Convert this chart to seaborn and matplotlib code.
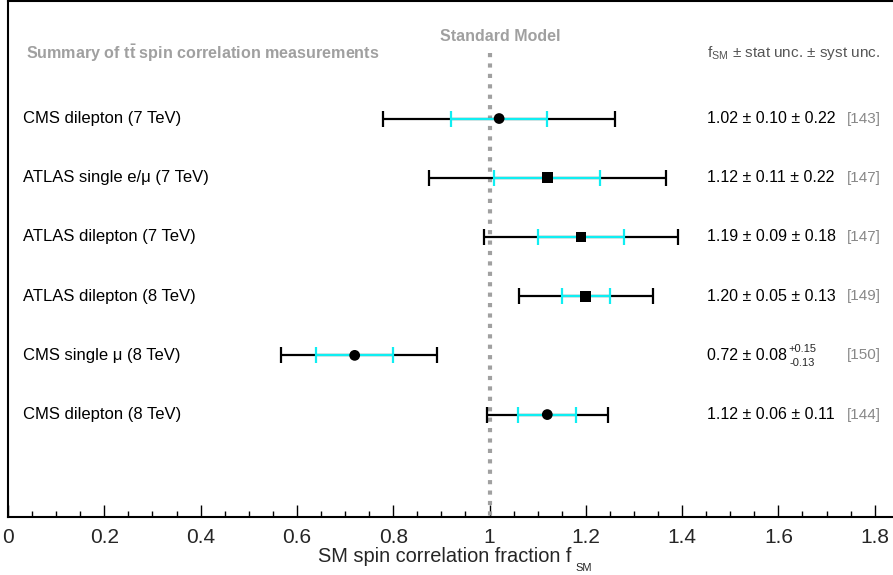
import numpy as np
import pandas as pd
import seaborn as sns
import matplotlib
matplotlib.use("Agg")
import matplotlib.pyplot as plt

# measurements (top to bottom)
labels = ["CMS dilepton (7 TeV)", "ATLAS single e/\u03bc (7 TeV)", "ATLAS dilepton (7 TeV)",
          "ATLAS dilepton (8 TeV)", "CMS single \u03bc (8 TeV)", "CMS dilepton (8 TeV)"]
experiment = ["CMS", "ATLAS", "ATLAS", "ATLAS", "CMS", "CMS"]
f_sm = [1.02, 1.12, 1.19, 1.20, 0.72, 1.12]
stat = [0.10, 0.11, 0.09, 0.05, 0.08, 0.06]
syst_up = [0.22, 0.22, 0.18, 0.13, 0.15, 0.11]
syst_dn = [0.22, 0.22, 0.18, 0.13, 0.13, 0.11]
refs = ["[143]", "[147]", "[147]", "[149]", "[150]", "[144]"]
value_text = ["1.02 \u00b1 0.10 \u00b1 0.22", "1.12 \u00b1 0.11 \u00b1 0.22", "1.19 \u00b1 0.09 \u00b1 0.18",
              "1.20 \u00b1 0.05 \u00b1 0.13", "0.72 \u00b1 0.08", "1.12 \u00b1 0.06 \u00b1 0.11"]
tick_labels = ["0", "0.2", "0.4", "0.6", "0.8", "1", "1.2", "1.4", "1.6", "1.8"]

df = pd.DataFrame({"label": labels, "exp": experiment, "f": f_sm,
                   "stat": stat, "syst_up": syst_up, "syst_dn": syst_dn})
df["row"] = np.arange(len(df))
df["tot_up"] = np.sqrt(df["stat"] ** 2 + df["syst_up"] ** 2)
df["tot_dn"] = np.sqrt(df["stat"] ** 2 + df["syst_dn"] ** 2)

sns.set_theme(style="ticks")
plt.rcParams["font.family"] = ["Liberation Sans", "DejaVu Sans"]
plt.rcParams["mathtext.fontset"] = "custom"
plt.rcParams["mathtext.rm"] = "Liberation Sans"
plt.rcParams["mathtext.bf"] = "Liberation Sans:bold"

fig = plt.figure(figsize=(8.93, 5.75), dpi=100)
ax = fig.add_axes([8 / 893, 58 / 575, 885 / 893, 516 / 575])

# standard model line
ax.plot([1, 1], [-1.1, 6.73], color="#a0a0a0", lw=3, linestyle=(0, (1, 1.5)),
        dash_capstyle="butt", zorder=1)

# total and stat error bars
ax.errorbar(df["f"], df["row"], xerr=[df["tot_dn"], df["tot_up"]], fmt="none",
            ecolor="black", elinewidth=1.6, capsize=6, capthick=1.6, zorder=2)
ax.errorbar(df["f"], df["row"], xerr=df["stat"], fmt="none",
            ecolor="#10eef2", elinewidth=1.6, capsize=6, capthick=1.6, zorder=3)

sns.scatterplot(data=df, x="f", y="row", style="exp", markers={"CMS": "o", "ATLAS": "s"},
                color="black", s=60, linewidth=0, legend=False, ax=ax, zorder=4)

# labels and values
for i in range(len(df)):
    ax.text(0.031, i, labels[i], fontsize=12, va="center", ha="left", color="black")
    ax.text(1.451, i, value_text[i], fontsize=11.5, va="center", ha="left", color="black")
    ax.text(1.742, i, refs[i], fontsize=11, va="center", ha="left", color="#888888")
ax.text(1.620, 4 - 0.11, "+0.15", fontsize=8, va="center", ha="left")
ax.text(1.624, 4 + 0.13, "-0.13", fontsize=8, va="center", ha="left")

ax.text(0.037, -1.1, r"Summary of $\mathbf{t\bar{t}}$ spin correlation measurements",
        fontsize=11.6, fontweight="bold", color="#a0a0a0", va="center", ha="left")
ax.text(1.023, -1.38, "Standard Model", fontsize=11.5, fontweight="bold",
        color="#a0a0a0", va="center", ha="center")
ax.text(1.451, -1.1, r"f$_{\mathrm{SM}}$ $\pm$ stat unc. $\pm$ syst unc.", fontsize=11,
        color="#555555", va="center", ha="left")

ax.set_xlim(0, 1.838)
ax.set_ylim(6.73, -1.985)
ax.set_xticks(np.arange(0, 1.81, 0.2))
ax.set_xticklabels(tick_labels, fontsize=15)
ax.set_xticks(np.arange(0, 1.84, 0.05), minor=True)
ax.set_yticks([])
ax.tick_params(axis="x", which="major", direction="in", length=9, width=1, pad=8, color="black")
ax.tick_params(axis="x", which="minor", direction="in", length=4.5, width=1, color="black")
ax.set_xlabel("")
ax.set_ylabel("")
for side in ["left", "bottom", "top"]:
    ax.spines[side].set_color("black")
    ax.spines[side].set_linewidth(1.5)
ax.spines["right"].set_visible(False)

fig.text(445 / 893, 1 - 557 / 575, "SM spin correlation fraction f",
         fontsize=14.4, ha="center", va="center")
fig.text(584 / 893, 1 - 568 / 575, "SM", fontsize=8, ha="center", va="center")

fig.savefig("out.png", dpi=100)
